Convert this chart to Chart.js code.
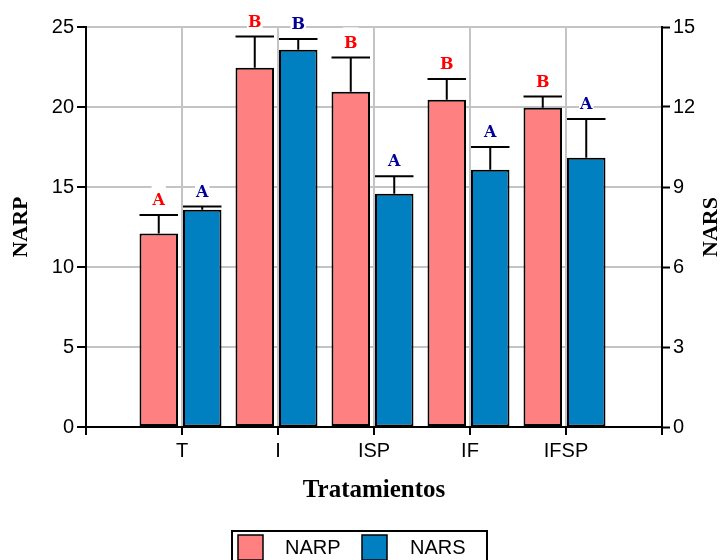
<!DOCTYPE html>
<html>
<head>
<meta charset="utf-8">
<script src="https://cdn.jsdelivr.net/npm/chart.js@4/dist/chart.umd.min.js"></script>
<style>
  html, body { margin: 0; padding: 0; background: #fff; }
  #wrap { width: 721px; height: 560px; }
</style>
</head>
<body>
<div id="wrap"><canvas id="c" width="721" height="560"></canvas></div>
<script>
// Treatments
const categories = ['T', 'I', 'ISP', 'IF', 'IFSP'];

// NARP (left axis) means and upper error
const narp = [12.1, 22.45, 20.95, 20.45, 19.95];
const narpErr = [1.15, 1.95, 2.15, 1.3, 0.7];
const narpLetters = ['A', 'B', 'B', 'B', 'B'];

// NARS (right axis) means and upper error
const nars = [8.15, 14.15, 8.75, 9.65, 10.1];
const narsErr = [0.12, 0.4, 0.65, 0.85, 1.45];
const narsLetters = ['A', 'B', 'A', 'A', 'A'];

// Axis ticks
const narpTicks = [0, 5, 10, 15, 20, 25];
const narsTicks = [0, 3, 6, 9, 12, 15];

const PINK = '#ff8080';
const BLUE = '#0080c0';
const GRID = '#c4c4c4';

// one empty slot on each side of the treatments
const xLabels = ['', ...categories, ''];
const pad = arr => [null, ...arr, null];

const extras = [
  { err: narpErr, letters: narpLetters, color: '#ff0000' },
  { err: narsErr, letters: narsLetters, color: '#000099' }
];

const annotate = {
  id: 'annotate',
  // pairs sit a little left of the category line
  afterDatasetsUpdate(chart) {
    chart.data.datasets.forEach((ds, di) => {
      chart.getDatasetMeta(di).data.forEach(bar => { bar.x -= 1.5; });
    });
  },
  afterDatasetsDraw(chart) {
    const ctx = chart.ctx;
    ctx.save();
    chart.data.datasets.forEach((ds, di) => {
      const meta = chart.getDatasetMeta(di);
      const yScale = chart.scales[ds.yAxisID];
      const ex = extras[di];
      meta.data.forEach((bar, i) => {
        const v = ds.data[i];
        if (v == null) return;
        const k = i - 1;
        const yTop = yScale.getPixelForValue(v + ex.err[k]);
        const half = bar.width / 2;
        // upper error bar
        ctx.strokeStyle = '#000';
        ctx.lineWidth = 2;
        ctx.beginPath();
        ctx.moveTo(bar.x, bar.y);
        ctx.lineTo(bar.x, yTop);
        ctx.moveTo(bar.x - half, yTop);
        ctx.lineTo(bar.x + half, yTop);
        ctx.stroke();
        // significance letter on a white box
        const cy = yTop - 15;
        ctx.font = 'bold 16px "DejaVu Serif"';
        const w = ctx.measureText(ex.letters[k]).width;
        ctx.fillStyle = '#fff';
        ctx.fillRect(bar.x - w / 2 - 1, cy - 15, w + 2, 23);
        ctx.fillStyle = ex.color;
        ctx.textAlign = 'center';
        ctx.textBaseline = 'middle';
        ctx.fillText(ex.letters[k], bar.x, cy + 1);
      });
    });
    ctx.restore();
  },
  afterDraw(chart) {
    const ctx = chart.ctx;
    const area = chart.chartArea;
    const midY = (area.top + area.bottom) / 2;
    ctx.save();
    ctx.fillStyle = '#000';
    ctx.textAlign = 'center';
    ctx.textBaseline = 'middle';
    ctx.font = 'bold 22px "Liberation Serif"';
    // left axis title
    ctx.save();
    ctx.translate(21, midY);
    ctx.rotate(-Math.PI / 2);
    ctx.fillText('NARP', 0, 0);
    ctx.restore();
    // right axis title
    ctx.save();
    ctx.translate(711, midY);
    ctx.rotate(-Math.PI / 2);
    ctx.fillText('NARS', 0, 0);
    ctx.restore();
    // x axis title
    ctx.font = 'bold 25px "Liberation Serif"';
    ctx.textBaseline = 'alphabetic';
    ctx.fillText('Tratamientos', (area.left + area.right) / 2, 497);

    // legend
    const lx = 232, ly = 531, lw = 255, lh = 40;
    ctx.lineWidth = 2;
    ctx.strokeStyle = '#000';
    ctx.strokeRect(lx, ly, lw, lh);
    const items = [
      { label: 'NARP', color: PINK, box: 238, text: 285 },
      { label: 'NARS', color: BLUE, box: 362, text: 410 }
    ];
    ctx.font = '20px "Liberation Sans"';
    ctx.textAlign = 'left';
    items.forEach(it => {
      ctx.fillStyle = it.color;
      ctx.fillRect(it.box, 535, 25, 25);
      ctx.lineWidth = 1.5;
      ctx.strokeRect(it.box, 535, 25, 25);
      ctx.fillStyle = '#000';
      ctx.fillText(it.label, it.text, 554);
    });
    ctx.restore();
  }
};

const tickFont = { family: '"Liberation Sans"', size: 20 };

new Chart(document.getElementById('c'), {
  type: 'bar',
  data: {
    labels: xLabels,
    datasets: [
      {
        label: 'NARP',
        data: pad(narp),
        yAxisID: 'y',
        backgroundColor: PINK,
        borderColor: '#000',
        borderWidth: 2,
        borderSkipped: false,
        categoryPercentage: 0.906,
        barPercentage: 0.885
      },
      {
        label: 'NARS',
        data: pad(nars),
        yAxisID: 'y1',
        backgroundColor: BLUE,
        borderColor: '#000',
        borderWidth: 2,
        borderSkipped: false,
        categoryPercentage: 0.906,
        barPercentage: 0.885
      }
    ]
  },
  options: {
    responsive: false,
    animation: false,
    events: [],
    layout: { padding: { top: 27, left: 0, right: 0, bottom: 0 } },
    plugins: {
      legend: { display: false },
      tooltip: { enabled: false }
    },
    scales: {
      x: {
        type: 'category',
        offset: false,
        grid: {
          offset: false,
          color: GRID,
          lineWidth: 2,
          tickColor: '#000',
          tickLength: 8,
          tickWidth: 2
        },
        border: { color: '#000', width: 2 },
        ticks: {
          font: tickFont,
          color: '#000',
          padding: 4,
          maxRotation: 0,
          autoSkip: false
        },
        afterFit: s => { s.height = 133; }
      },
      y: {
        position: 'left',
        min: 0,
        max: 25,
        afterBuildTicks: s => { s.ticks = narpTicks.map(v => ({ value: v })); },
        grid: {
          color: GRID,
          lineWidth: 2,
          tickColor: '#000',
          tickLength: 9,
          tickWidth: 2
        },
        border: { color: '#000', width: 2 },
        ticks: { font: tickFont, color: '#000', padding: 3 },
        afterFit: s => { s.width = 86; }
      },
      y1: {
        position: 'right',
        min: 0,
        max: 15,
        afterBuildTicks: s => { s.ticks = narsTicks.map(v => ({ value: v })); },
        grid: {
          drawOnChartArea: false,
          tickColor: '#000',
          tickLength: 8,
          tickWidth: 2
        },
        border: { color: '#000', width: 2 },
        ticks: { font: tickFont, color: '#000', padding: 3 },
        afterFit: s => { s.width = 59; }
      }
    }
  },
  plugins: [annotate]
});
</script>
</body>
</html>
